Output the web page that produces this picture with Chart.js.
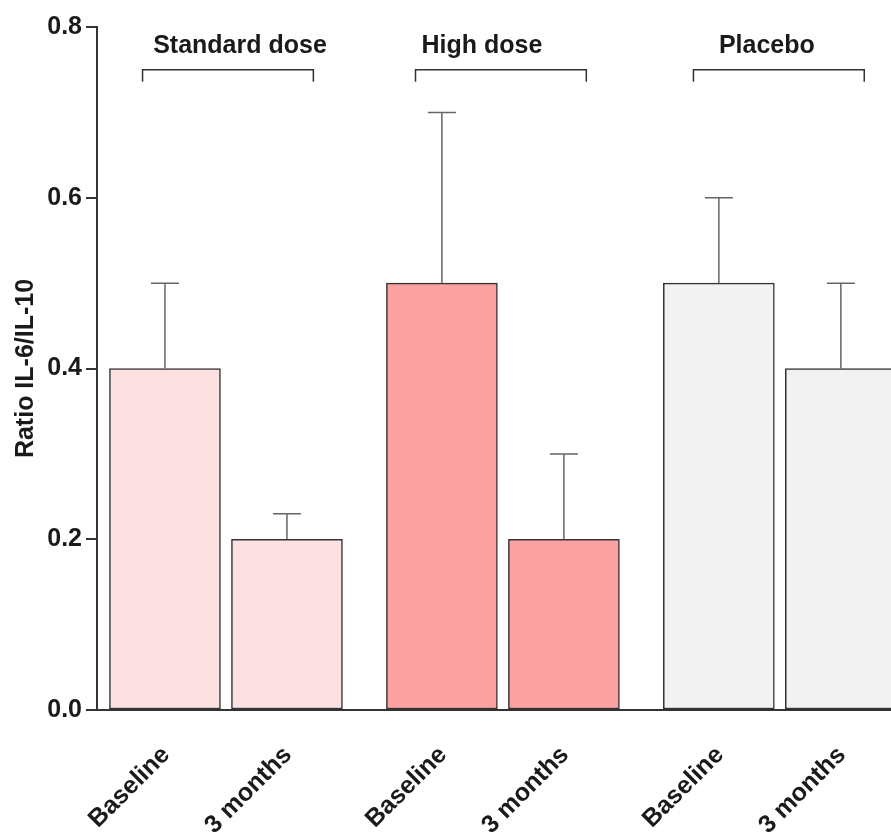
<!DOCTYPE html>
<html>
<head>
<meta charset="utf-8">
<script src="https://cdn.jsdelivr.net/npm/chart.js@4"></script>
<style>
html,body{margin:0;padding:0;background:#fff;overflow:hidden;}
#wrap{width:891px;height:837px;position:relative;}
</style>
</head>
<body>
<div id="wrap"><canvas id="c" width="891" height="837"></canvas></div>
<script>
// ---- data ----
const groups = ["Standard dose", "High dose", "Placebo"];
const timepoints = ["Baseline", "3 months"];
const means = [0.4, 0.2, 0.5, 0.2, 0.5, 0.4];
const errors = [0.1, 0.03, 0.2, 0.1, 0.1, 0.1];
const yTicks = [0.0, 0.2, 0.4, 0.6, 0.8];
const yTitle = "Ratio IL-6/IL-10";
const fills = ["#fde0e1", "#fde0e1", "#fca1a1", "#fca1a1", "#f2f2f2", "#f2f2f2"];

// ---- layout helpers (not data) ----
const GROUP_STEP = 2.27;
const TITLE_SHIFT = [14, -21, -13];
const BRACKET_SHIFT = [2, -2, -1];
const pos = means.map((_, i) => Math.floor(i / 2) * GROUP_STEP + (i % 2));
const points = means.map((v, i) => ({ x: pos[i], y: v }));
const labels = means.map((_, i) => timepoints[i % 2]);
const FONT = '"Liberation Sans", Arial, sans-serif';
const TXT = '#1a1a1a';
const FS = 25;

const overlay = {
  id: 'overlay',
  afterDatasetsDraw(chart) {
    const ctx = chart.ctx, xs = chart.scales.x, ys = chart.scales.y;
    ctx.save();
    ctx.strokeStyle = '#666';
    ctx.lineWidth = 1.5;
    means.forEach((m, i) => {
      const x = xs.getPixelForValue(pos[i]);
      const y0 = ys.getPixelForValue(m);
      const y1 = ys.getPixelForValue(m + errors[i]);
      ctx.beginPath();
      ctx.moveTo(x, y0); ctx.lineTo(x, y1);
      ctx.moveTo(x - 14, y1); ctx.lineTo(x + 14, y1);
      ctx.stroke();
    });
    ctx.restore();
  },
  afterDraw(chart) {
    const ctx = chart.ctx, xs = chart.scales.x, ys = chart.scales.y;
    ctx.save();
    groups.forEach((g, k) => {
      const c = k * GROUP_STEP + 0.5;
      const xl = xs.getPixelForValue(c - 0.7) + BRACKET_SHIFT[k];
      const xr = xs.getPixelForValue(c + 0.7) + BRACKET_SHIFT[k];
      const yb = ys.getPixelForValue(0.75);
      const yt = ys.getPixelForValue(0.736);
      ctx.strokeStyle = '#333';
      ctx.lineWidth = 1.5;
      ctx.beginPath();
      ctx.moveTo(xl, yt); ctx.lineTo(xl, yb); ctx.lineTo(xr, yb); ctx.lineTo(xr, yt);
      ctx.stroke();
      ctx.fillStyle = TXT;
      ctx.font = 'bold ' + FS + 'px ' + FONT;
      ctx.textAlign = 'center';
      ctx.textBaseline = 'middle';
      ctx.fillText(g, xs.getPixelForValue(c) + TITLE_SHIFT[k], ys.getPixelForValue(0.778));
    });
    ctx.font = 'bold ' + FS + 'px ' + FONT;
    ctx.fillStyle = TXT;
    ctx.textAlign = 'right';
    ctx.textBaseline = 'middle';
    labels.forEach((t, i) => {
      const x = xs.getPixelForValue(pos[i]);
      ctx.save();
      ctx.translate(x + 1, chart.chartArea.bottom + 41);
      ctx.rotate(-Math.PI / 4);
      ctx.fillText(t, 0, 0);
      ctx.restore();
    });
    ctx.restore();
  }
};

new Chart(document.getElementById('c'), {
  type: 'bar',
  data: {
    datasets: [{
      data: points,
      backgroundColor: fills,
      borderColor: '#333',
      borderWidth: 1.5,
      borderSkipped: false,
      barThickness: 111
    }]
  },
  options: {
    responsive: false,
    animation: false,
    devicePixelRatio: 1,
    layout: { padding: { top: 27, right: 0, left: 0, bottom: 0 } },
    plugins: { legend: { display: false }, tooltip: { enabled: false } },
    scales: {
      x: {
        type: 'linear',
        offset: false,
        min: -0.557,
        max: 5.951,
        grid: { display: false, offset: false },
        ticks: { display: false },
        border: { display: true, color: '#333', width: 2 },
        afterFit(s) { s.height = 127; }
      },
      y: {
        min: 0,
        max: 0.8,
        afterBuildTicks(s) { s.ticks = yTicks.map(v => ({ value: v })); },
        ticks: {
          callback: v => v.toFixed(1),
          font: { family: FONT, size: FS, weight: 'bold' },
          color: TXT,
          padding: 4
        },
        grid: { drawOnChartArea: false, drawTicks: true, tickLength: 11, color: '#333', lineWidth: 2 },
        border: { display: true, color: '#333', width: 2 },
        title: {
          display: true,
          text: yTitle,
          font: { family: FONT, size: FS, weight: 'bold' },
          color: TXT,
          padding: { top: 11, bottom: 0 }
        },
        afterFit(s) { s.width = 97; }
      }
    }
  },
  plugins: [overlay]
});
</script>
</body>
</html>
